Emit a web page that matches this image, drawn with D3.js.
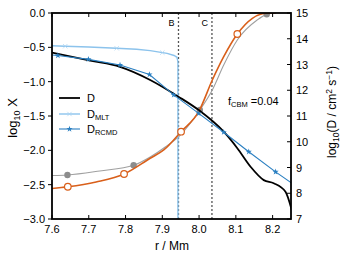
<!DOCTYPE html>
<html><head><meta charset="utf-8">
<script src="https://cdn.jsdelivr.net/npm/d3@7"></script>
<style>body{margin:0;background:#fff}svg{display:block;font-family:"Liberation Sans",Arial,sans-serif}</style>
</head><body><svg id="c" width="343" height="258"></svg>
<script>
// log10 D curves (right axis)
const dR = [7.600,7.704,7.785,7.867,7.944,7.999,8.067,8.104,8.140,8.176,8.203,8.235,8.252];
const dV = [13.46,13.15,12.91,12.40,11.75,11.23,10.39,9.75,9.03,8.51,8.39,8.06,7.35];
const mltR = [7.600,7.636,7.700,7.776,7.830,7.867,7.913,7.932,7.940,7.9425,7.9425];
const mltV = [13.73,13.71,13.68,13.63,13.59,13.54,13.43,13.35,13.28,13.1,5];
const mltMarkR = [7.636,7.776,7.900];
const rcmdR = [7.600,7.616,7.699,7.785,7.865,7.931,7.999,8.067,8.135,8.208,8.252];
const rcmdV = [13.37,13.35,13.20,12.98,12.61,11.82,11.10,10.37,9.61,8.83,8.39];
const rcmdMarkR = [7.616,7.699,7.785,7.865,7.931,7.999,8.067,8.135,8.208];
// log10 X curves (left axis)
const orR = [7.600,7.643,7.720,7.796,7.867,7.904,7.951,7.999,8.036,8.067,8.104,8.145,8.181,8.208];
const orV = [-2.556,-2.53,-2.46,-2.345,-2.116,-1.995,-1.729,-1.437,-0.976,-0.636,-0.306,-0.077,-0.004,0];
const orMarkR = [7.643,7.796,7.951,8.104];
const grR = [7.600,7.642,7.730,7.822,7.867,7.908,7.949,8.002,8.036,8.067,8.104,8.158,8.184,8.208];
const grV = [-2.366,-2.359,-2.30,-2.218,-2.097,-1.951,-1.777,-1.413,-1.121,-0.757,-0.393,-0.102,-0.02,0];
const grMarkR = [7.642,7.822,8.002,8.184];
const xTicks = [7.6,7.7,7.8,7.9,8.0,8.1,8.2];
const yLTicks = [0,-0.5,-1,-1.5,-2,-2.5,-3];
const yRTicks = [7,8,9,10,11,12,13,14,15];
const vLines = [{r:7.944,l:"B"},{r:8.035,l:"C"}];

const svg = d3.select("#c");
const L=52,R=291,T=13,B=219;
const x = d3.scaleLinear().domain([7.6,8.25]).range([L,R]);
const yL = d3.scaleLinear().domain([-3,0]).range([B,T]);
const yR = d3.scaleLinear().domain([7,15]).range([B,T]);

svg.append("defs").append("clipPath").attr("id","cp").append("rect").attr("x",L).attr("y",T).attr("width",R-L).attr("height",B-T);
const g = svg.append("g").attr("clip-path","url(#cp)");

vLines.forEach(v=>{
  g.append("line").attr("x1",x(v.r)).attr("x2",x(v.r)).attr("y1",T).attr("y2",B)
   .attr("stroke","#555").attr("stroke-width",1.3).attr("stroke-dasharray","2,2");
});

const interp = (rs,vs,r)=>{for(let i=0;i<rs.length-1;i++){if(r>=rs[i]&&r<=rs[i+1]){const t=(r-rs[i])/(rs[i+1]-rs[i]||1);return vs[i]+t*(vs[i+1]-vs[i]);}}return vs[vs.length-1];};

const lineL = d3.line().curve(d3.curveMonotoneX);
g.append("path").attr("d",lineL(grR.map((r,i)=>[x(r),yL(grV[i])]))).attr("fill","none").attr("stroke","#a0a0a0").attr("stroke-width",1.1);
grMarkR.forEach(r=>g.append("circle").attr("cx",x(r)).attr("cy",yL(interp(grR,grV,r))).attr("r",3.2).attr("fill","#8c8c8c"));

g.append("path").attr("d",d3.line()(mltR.map((r,i)=>[x(r),yR(mltV[i])]))).attr("fill","none").attr("stroke","#8cc3ec").attr("stroke-width",1.4);
const xMark=(sel,cx,cy,c)=>{sel.append("path").attr("d",`M${cx-2.2},${cy-2.2}L${cx+2.2},${cy+2.2}M${cx-2.2},${cy+2.2}L${cx+2.2},${cy-2.2}`).attr("stroke",c).attr("stroke-width",0.7).attr("fill","none");};
mltMarkR.forEach(r=>xMark(g,x(r),yR(interp(mltR,mltV,r)),"#a9d3f2"));

g.append("path").attr("d",lineL(orR.map((r,i)=>[x(r),yL(orV[i])]))).attr("fill","none").attr("stroke","#d95f1a").attr("stroke-width",1.6);
orMarkR.forEach(r=>g.append("circle").attr("cx",x(r)).attr("cy",yL(interp(orR,orV,r))).attr("r",3.3).attr("fill","#fff").attr("stroke","#d95f1a").attr("stroke-width",1.2));

g.append("path").attr("d",d3.line().curve(d3.curveMonotoneX)(dR.map((r,i)=>[x(r),yR(dV[i])]))).attr("fill","none").attr("stroke","#000").attr("stroke-width",1.8);

g.append("path").attr("d",d3.line()(rcmdR.map((r,i)=>[x(r),yR(rcmdV[i])]))).attr("fill","none").attr("stroke","#2a7fc1").attr("stroke-width",1.1);
const star = d3.symbol().type(d3.symbolStar).size(12);
const starMark=(sel,cx,cy)=>sel.append("path").attr("d",star()).attr("transform",`translate(${cx},${cy})`).attr("fill","#2a7fc1");
rcmdMarkR.forEach(r=>starMark(g,x(r),yR(interp(rcmdR,rcmdV,r))));

svg.append("rect").attr("x",L).attr("y",T).attr("width",R-L).attr("height",B-T).attr("fill","none").attr("stroke","#000").attr("stroke-width",1.8);

const fs=11;
const ax = svg.append("g");
xTicks.forEach(t=>{
  ax.append("line").attr("x1",x(t)).attr("x2",x(t)).attr("y1",B).attr("y2",B-4).attr("stroke","#000");
  ax.append("line").attr("x1",x(t)).attr("x2",x(t)).attr("y1",T).attr("y2",T+4).attr("stroke","#000");
  ax.append("text").attr("x",x(t)).attr("y",B+14).attr("text-anchor","middle").attr("font-size",fs).text(d3.format(".1f")(t));
});
yLTicks.forEach(t=>{
  ax.append("line").attr("x1",L-4).attr("x2",L).attr("y1",yL(t)).attr("y2",yL(t)).attr("stroke","#000");
  ax.append("text").attr("x",L-7).attr("y",yL(t)+4).attr("text-anchor","end").attr("font-size",fs).text(d3.format(".1f")(t).replace("-","\u2212"));
});
yRTicks.forEach(t=>{
  ax.append("line").attr("x1",R-4).attr("x2",R).attr("y1",yR(t)).attr("y2",yR(t)).attr("stroke","#000");
  ax.append("text").attr("x",R+5).attr("y",yR(t)+4).attr("text-anchor","start").attr("font-size",fs).text(t);
});
vLines.forEach(v=>ax.append("text").attr("x",x(v.r)-4).attr("y",T+13).attr("text-anchor","end").attr("font-size",9).text(v.l));

svg.append("text").attr("x",172).attr("y",250).attr("text-anchor","middle").attr("font-size",12).text("r / Mm");
const yl = svg.append("text").attr("transform","translate(17,118) rotate(-90)").attr("text-anchor","middle").attr("font-size",13);
yl.append("tspan").text("log");
yl.append("tspan").attr("font-size",9).attr("dy",3).text("10");
yl.append("tspan").attr("dy",-3).text(" X");
const yr = svg.append("text").attr("transform","translate(336,112) rotate(-90)").attr("text-anchor","middle").attr("font-size",12);
yr.append("tspan").text("log");
yr.append("tspan").attr("font-size",8.5).attr("dy",3).text("10");
yr.append("tspan").attr("dy",-3).text("(D / cm");
yr.append("tspan").attr("font-size",8.5).attr("dy",-4).text("2");
yr.append("tspan").attr("dy",4).text(" s");
yr.append("tspan").attr("font-size",8.5).attr("dy",-4).text("\u22121");
yr.append("tspan").attr("dy",4).text(")");

const ft = svg.append("text").attr("x",228).attr("y",105).attr("font-size",11);
ft.append("tspan").text("f");
ft.append("tspan").attr("font-size",7.5).attr("dy",2).text("CBM");
ft.append("tspan").attr("dy",-2).text(" =0.04");

const lg = svg.append("g");
const ly=[98,114,129];
lg.append("line").attr("x1",59).attr("x2",80).attr("y1",ly[0]).attr("y2",ly[0]).attr("stroke","#000").attr("stroke-width",1.8);
lg.append("line").attr("x1",59).attr("x2",80).attr("y1",ly[1]).attr("y2",ly[1]).attr("stroke","#8cc3ec").attr("stroke-width",1.4);
xMark(lg,69.5,ly[1],"#a9d3f2");
lg.append("line").attr("x1",59).attr("x2",80).attr("y1",ly[2]).attr("y2",ly[2]).attr("stroke","#2a7fc1").attr("stroke-width",1.1);
starMark(lg,69.5,ly[2]);
lg.append("text").attr("x",87).attr("y",ly[0]+4).attr("font-size",11).text("D");
const t2=lg.append("text").attr("x",87).attr("y",ly[1]+4).attr("font-size",11);
t2.append("tspan").text("D");t2.append("tspan").attr("font-size",7.5).attr("dy",1.5).text("MLT");
const t3=lg.append("text").attr("x",87).attr("y",ly[2]+4).attr("font-size",11);
t3.append("tspan").text("D");t3.append("tspan").attr("font-size",7.5).attr("dy",1.5).text("RCMD");
</script></body></html>
